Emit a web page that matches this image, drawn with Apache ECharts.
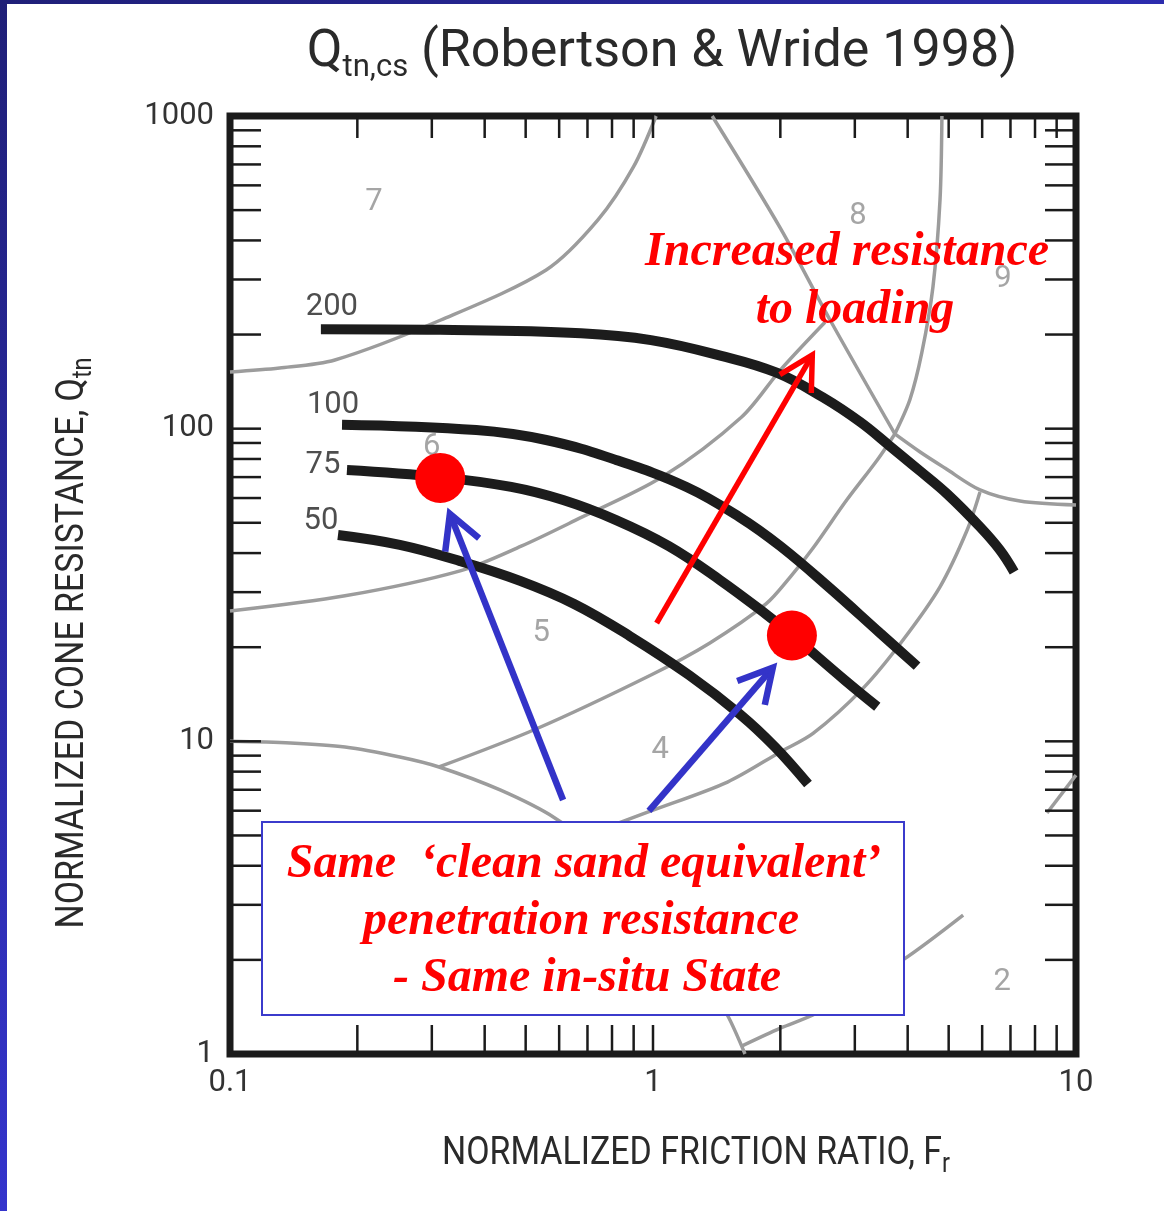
<!DOCTYPE html>
<html>
<head>
<meta charset="utf-8">
<script src="https://cdn.jsdelivr.net/npm/echarts@6/dist/echarts.min.js"></script>
<style>
html, body { margin: 0; padding: 0; background: #ffffff; }
#chart { width: 1164px; height: 1211px; }
</style>
</head>
<body>
<div id="chart"></div>
<script>
// ---- axis ticks ----
const xTickLabels = ['0.1', '1', '10'];
const yTickLabels = ['1', '10', '100', '1000'];
const tickMultipliers = [1, 2, 3, 4, 5, 6, 7, 8, 9];
const xDecades = [0.1, 1];
const yDecades = [1, 10, 100];

// ---- Qtn,cs contours, points as [Fr (%), Qtn] ----
const contourValues = ['200', '100', '75', '50'];
const qcs200 = [[0.164, 208], [0.314, 207], [0.676, 202], [0.989, 192], [1.45, 171], [1.96, 151],
  [2.52, 126], [3.09, 105], [3.63, 88.0], [4.28, 73.2], [4.96, 61.8], [5.93, 48.5], [6.61, 40.9], [7.14, 34.8]];
const qcs100 = [[0.184, 103], [0.382, 99.0], [0.559, 92.0], [0.818, 79.4], [1.20, 65.1], [1.60, 52.2],
  [2.00, 42.1], [2.62, 30.9], [3.44, 22.2], [4.21, 17.4]];
const qcs75 = [[0.189, 73.8], [0.314, 70.0], [0.462, 65.1], [0.613, 59.1], [0.818, 51.0], [1.09, 42.1],
  [1.44, 32.8], [1.85, 25.5], [2.13, 21.9], [2.84, 15.7], [3.39, 12.9]];
const qcs50 = [[0.180, 45.7], [0.252, 42.5], [0.350, 37.7], [0.485, 32.6], [0.651, 27.5], [0.882, 21.7],
  [1.216, 16.3], [1.606, 12.2], [1.943, 9.59], [2.325, 7.30]];
// label offsets (px) from the first point of each contour
const contourLabelOffsets = [[11, -22], [-9, -19], [-24, -5], [-17, -14]];

// ---- soil behaviour type zone boundaries [Fr (%), Qtn] ----
const zone7Boundary = [[0.1, 151.8], [0.131, 156.3], [0.177, 165.8], [0.315, 222.6], [0.559, 321.7],
  [0.741, 465], [0.899, 687], [1.017, 1000]];
const ic205Boundary = [[0.1, 26.1], [0.187, 29.2], [0.350, 35.1], [0.488, 42.1], [0.651, 50.7],
  [1.05, 70.0], [1.62, 109], [2.00, 154], [2.55, 219]];
const ic260Boundary = [[0.312, 8.28], [0.529, 10.95], [0.989, 16.3], [1.36, 20.6], [1.85, 27.5],
  [2.11, 33.5], [2.39, 41.5], [2.87, 59.1], [3.39, 79.4], [3.73, 96.2]];
const ic295Boundary = [[0.603, 4.66], [0.989, 5.99], [1.50, 7.41], [2.00, 9.25], [2.39, 10.6],
  [3.14, 14.8], [3.90, 21.1], [4.77, 31.2], [5.53, 47.4], [5.93, 62.7]];
const zone1Boundary = [[0.1, 10.0], [0.139, 9.88], [0.187, 9.59], [0.252, 8.91], [0.312, 8.28],
  [0.435, 6.99], [0.586, 5.69], [0.791, 4.17], [1.04, 2.78], [1.29, 1.86], [1.50, 1.33], [1.65, 1.0]];
const zone2BoundaryLow = [[1.62, 1.06], [2.00, 1.21], [2.43, 1.35], [3.90, 2.00], [5.41, 2.78]];
const zone2BoundaryHigh = [[8.54, 5.90], [10, 7.80]];
const zone8Boundary = [[1.38, 1000], [2.00, 438], [2.62, 223], [3.73, 96.2]];
const zone9BoundaryLeft = [[4.82, 1000], [4.77, 539], [4.59, 284], [4.32, 175], [4.05, 124], [3.73, 96.2]];
const zone9BoundaryLow = [[3.73, 96.2], [4.28, 84.2], [4.90, 74.8], [5.93, 63.7], [7.37, 58.7], [10, 57.0]];

// ---- zone numbers ----
const zoneNames = ['7', '8', '9', '6', '5', '4', '2'];
const zoneNameFr = [0.219, 3.05, 6.72, 0.300, 0.544, 1.04, 6.69];
const zoneNameQ = [531, 479, 301, 87.4, 22.2, 9.38, 1.69];

// ---- two states on the 75 contour ----
const statePoints = [[0.314, 69.6], [2.13, 21.8]];

// ---- arrows [FrTail, QTail, FrHead, QHead] ----
const blueArrows = [[0.613, 6.49, 0.331, 53.4], [0.978, 5.99, 1.92, 17.2]];
const redArrows = [[1.02, 23.9, 2.38, 172]];

// ---------------------------------------------------------------
const FONT = 'Roboto';
const SERIF_BI = 'italic bold 48px "Liberation Serif"';
const measureCtx = document.createElement('canvas').getContext('2d');
function textWidth(str, font) {
  measureCtx.font = font;
  return measureCtx.measureText(str).width;
}

// text runs laid out left to right, centred on the group origin
function textRun(parts, opts) {
  const widths = parts.map(p => textWidth(p.text, p.size + 'px ' + FONT));
  const total = widths.reduce((a, b) => a + b, 0);
  let x = -total / 2;
  const children = parts.map((p, i) => {
    const el = {
      type: 'text', x: x, y: p.dy || 0,
      style: {
        text: p.text, font: p.size + 'px ' + FONT, fill: opts.color,
        align: 'left', textAlign: 'left', verticalAlign: 'middle', textVerticalAlign: 'middle'
      }
    };
    x += widths[i];
    return el;
  });
  return {
    type: 'group', x: opts.x, y: opts.y, rotation: opts.rotation || 0,
    scaleX: opts.scaleX || 1, scaleY: 1, children: children, z: 60
  };
}

function tickLabel(labels) {
  return function (v) {
    const s = String(parseFloat(Number(v).toPrecision(6)));
    return labels.indexOf(s) >= 0 ? s : '';
  };
}

const xTickValues = [];
xDecades.forEach(d => tickMultipliers.forEach(m => {
  const v = parseFloat((d * m).toPrecision(6));
  if (v > 0.1 && v < 10) xTickValues.push([v, 1]);
}));
const yTickValues = [];
yDecades.forEach(d => tickMultipliers.forEach(m => {
  const v = parseFloat((d * m).toPrecision(6));
  if (v > 1 && v < 1000) yTickValues.push([0.1, v]);
}));

const TICK_STYLE = { stroke: '#1b1b1b', lineWidth: 2.5 };

function renderXTick(params, api) {
  const v = api.value(0);
  const b = api.coord([v, 1]);
  const t = api.coord([v, 1000]);
  return {
    type: 'group', children: [
      { type: 'line', shape: { x1: b[0], y1: b[1], x2: b[0], y2: b[1] - 29 }, style: TICK_STYLE },
      { type: 'line', shape: { x1: t[0], y1: t[1], x2: t[0], y2: t[1] + 22 }, style: TICK_STYLE }
    ]
  };
}
function renderYTick(params, api) {
  const v = api.value(1);
  const l = api.coord([0.1, v]);
  const r = api.coord([10, v]);
  return {
    type: 'group', children: [
      { type: 'line', shape: { x1: l[0], y1: l[1], x2: l[0] + 31, y2: l[1] }, style: TICK_STYLE },
      { type: 'line', shape: { x1: r[0], y1: r[1], x2: r[0] - 31, y2: r[1] }, style: TICK_STYLE }
    ]
  };
}
function arrowRenderer(color, width) {
  return function (params, api) {
    const p1 = api.coord([api.value(0), api.value(1)]);
    const p2 = api.coord([api.value(2), api.value(3)]);
    const ang = Math.atan2(p1[1] - p2[1], p1[0] - p2[0]);
    const len = 38, spread = 0.5;
    const a1 = [p2[0] + len * Math.cos(ang + spread), p2[1] + len * Math.sin(ang + spread)];
    const a2 = [p2[0] + len * Math.cos(ang - spread), p2[1] + len * Math.sin(ang - spread)];
    return {
      type: 'group', children: [
        { type: 'line', shape: { x1: p1[0], y1: p1[1], x2: p2[0], y2: p2[1] },
          style: { stroke: color, lineWidth: width } },
        { type: 'polyline', shape: { points: [a1, p2, a2] },
          style: { stroke: color, lineWidth: width, fill: null, lineJoin: 'miter' } }
      ]
    };
  };
}

const boundaryList = [zone7Boundary, ic205Boundary, ic260Boundary, ic295Boundary, zone1Boundary,
  zone2BoundaryLow, zone2BoundaryHigh, zone8Boundary, zone9BoundaryLeft, zone9BoundaryLow];
const contourList = [qcs200, qcs100, qcs75, qcs50];

const series = [];
boundaryList.forEach(b => series.push({
  type: 'line', data: b, symbol: 'none', smooth: 0.3, silent: true, z: 2,
  lineStyle: { color: '#9c9c9c', width: 3.5 }
}));
contourList.forEach(c => series.push({
  type: 'line', data: c, symbol: 'none', smooth: 0.4, silent: true, z: 3,
  lineStyle: { color: '#1c1c1c', width: 10, cap: 'butt' }
}));
series.push({
  type: 'scatter', silent: true, z: 4, symbolSize: 1,
  itemStyle: { color: 'rgba(0,0,0,0)' },
  data: contourList.map((c, i) => ({
    value: c[0],
    label: { show: true, position: 'inside', formatter: contourValues[i], offset: contourLabelOffsets[i],
      fontFamily: FONT, fontSize: 31, color: '#222222' }
  }))
});
series.push({
  type: 'scatter', silent: true, z: 2, symbolSize: 1,
  itemStyle: { color: 'rgba(0,0,0,0)' },
  data: zoneNames.map((n, i) => [zoneNameFr[i], zoneNameQ[i], n]),
  label: { show: true, position: 'inside', formatter: p => p.value[2],
    fontFamily: FONT, fontSize: 31, color: '#8f8f8f' }
});
series.push({ type: 'custom', silent: true, z: 5, data: xTickValues, renderItem: renderXTick });
series.push({ type: 'custom', silent: true, z: 5, data: yTickValues, renderItem: renderYTick });
series.push({
  type: 'scatter', silent: true, z: 6, symbol: 'circle', symbolSize: 50,
  itemStyle: { color: '#ff0000', opacity: 1 }, data: statePoints
});
series.push({
  type: 'custom', silent: true, z: 7, data: blueArrows, encode: { x: [0, 2], y: [1, 3] },
  renderItem: arrowRenderer('#3333c8', 6.5)
});
series.push({
  type: 'custom', silent: true, z: 7, data: redArrows, encode: { x: [0, 2], y: [1, 3] },
  renderItem: arrowRenderer('#ff0000', 5.5)
});

const graphic = [
  { type: 'rect', z: 200, shape: { x: 0, y: 0, width: 7, height: 1211 },
    style: { fill: new echarts.graphic.LinearGradient(0, 0, 0, 1,
      [{ offset: 0, color: '#1f1f78' }, { offset: 1, color: '#3434cc' }]) } },
  { type: 'rect', z: 200, shape: { x: 0, y: 0, width: 1164, height: 4 },
    style: { fill: new echarts.graphic.LinearGradient(0, 0, 1, 0,
      [{ offset: 0, color: '#1f1f78' }, { offset: 1, color: '#2c2cae' }]) } },
  // title
  textRun([{ text: 'Q', size: 52 }, { text: 'tn,cs', size: 31, dy: 15 },
    { text: ' (Robertson & Wride 1998)', size: 52 }],
    { x: 662, y: 53, scaleX: 1.0, color: '#2a2a2a' }),
  // axis names
  textRun([{ text: 'NORMALIZED FRICTION RATIO, F', size: 39 }, { text: 'r', size: 27, dy: 11 }],
    { x: 696, y: 1154, scaleX: 0.87, color: '#2a2a2a' }),
  textRun([{ text: 'NORMALIZED CONE RESISTANCE, Q', size: 39 }, { text: 'tn', size: 27, dy: 11 }],
    { x: 73, y: 643, rotation: Math.PI / 2, scaleX: 0.87, color: '#2a2a2a' }),
  // annotations
  { type: 'text', z: 100, x: 847, y: 253,
    style: { text: 'Increased resistance', font: SERIF_BI, fill: '#ff0000',
      align: 'center', textAlign: 'center', verticalAlign: 'middle', textVerticalAlign: 'middle' } },
  { type: 'text', z: 100, x: 855, y: 311,
    style: { text: 'to loading', font: SERIF_BI, fill: '#ff0000',
      align: 'center', textAlign: 'center', verticalAlign: 'middle', textVerticalAlign: 'middle' } },
  { type: 'rect', z: 100, shape: { x: 262, y: 822, width: 642, height: 193 },
    style: { fill: '#ffffff', stroke: '#3b3bcc', lineWidth: 2 } },
  { type: 'text', z: 101, x: 584, y: 865,
    style: { text: 'Same  \u2018clean sand equivalent\u2019', font: SERIF_BI, fill: '#ff0000',
      align: 'center', textAlign: 'center', verticalAlign: 'middle', textVerticalAlign: 'middle' } },
  { type: 'text', z: 101, x: 581, y: 922,
    style: { text: 'penetration resistance', font: SERIF_BI, fill: '#ff0000',
      align: 'center', textAlign: 'center', verticalAlign: 'middle', textVerticalAlign: 'middle' } },
  { type: 'text', z: 101, x: 587, y: 979,
    style: { text: '- Same in-situ State', font: SERIF_BI, fill: '#ff0000',
      align: 'center', textAlign: 'center', verticalAlign: 'middle', textVerticalAlign: 'middle' } }
];

const chart = echarts.init(document.getElementById('chart'));
chart.setOption({
  animation: false,
  backgroundColor: '#ffffff',
  grid: { left: 230, right: 88, top: 116, bottom: 157, show: true,
    borderColor: '#1b1b1b', borderWidth: 7, backgroundColor: 'rgba(0,0,0,0)' },
  xAxis: {
    type: 'log', logBase: 10, min: 0.1, max: 10,
    axisLine: { show: false }, axisTick: { show: false }, splitLine: { show: false },
    minorTick: { show: false }, minorSplitLine: { show: false },
    axisLabel: { margin: 14, fontFamily: FONT, fontSize: 31, color: '#333333',
      showMinLabel: true, showMaxLabel: true, formatter: tickLabel(xTickLabels) }
  },
  yAxis: {
    type: 'log', logBase: 10, min: 1, max: 1000,
    axisLine: { show: false }, axisTick: { show: false }, splitLine: { show: false },
    minorTick: { show: false }, minorSplitLine: { show: false },
    axisLabel: { margin: 16, fontFamily: FONT, fontSize: 31, color: '#333333', padding: [8, 0, 0, 0],
      showMinLabel: true, showMaxLabel: true, formatter: tickLabel(yTickLabels) }
  },
  series: series,
  graphic: graphic
});
</script>
</body>
</html>
